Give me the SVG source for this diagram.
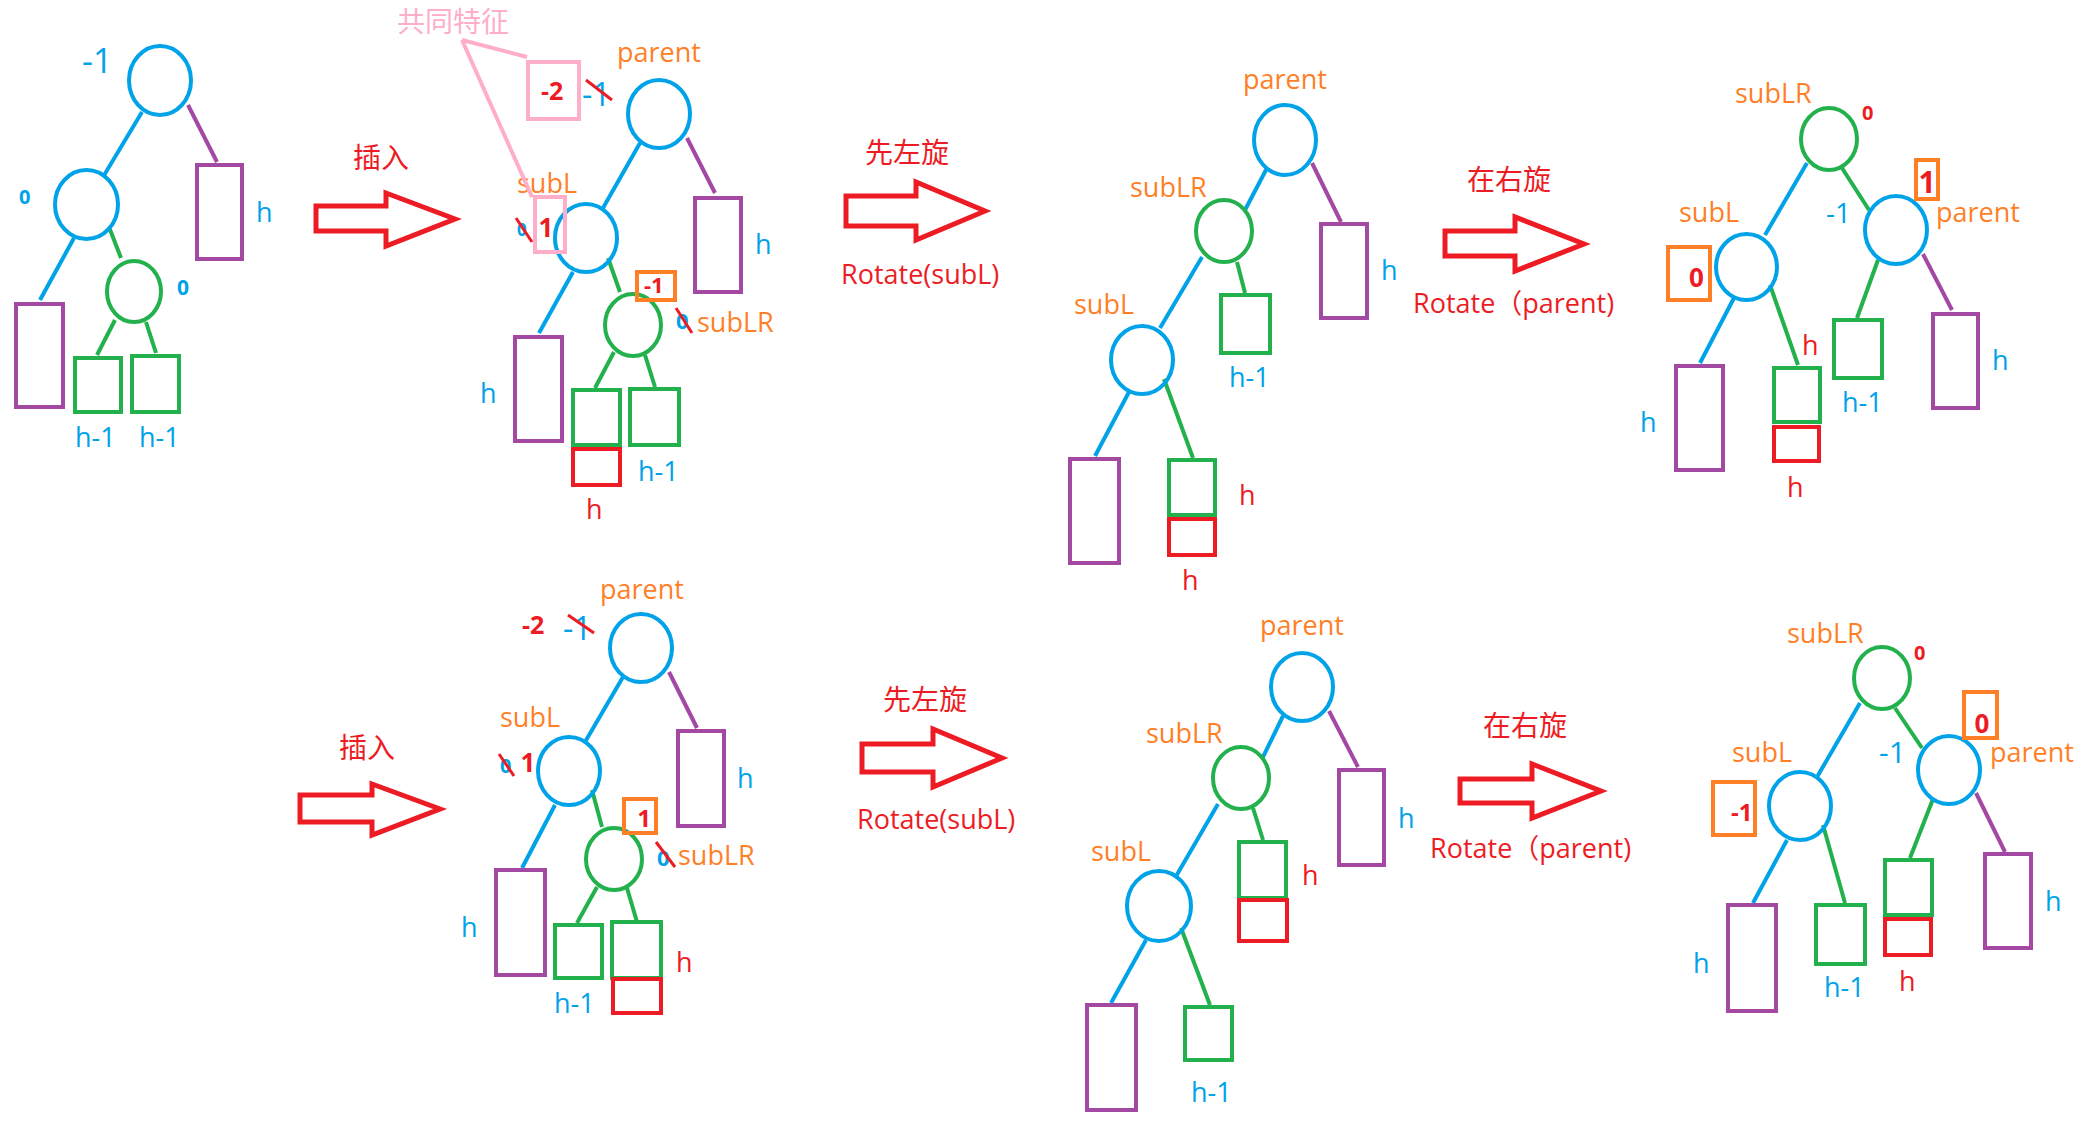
<svg xmlns="http://www.w3.org/2000/svg" width="2100" height="1124" viewBox="0 0 2100 1124">
<style>
text{font-family:"Open Sans","Noto Sans CJK SC",sans-serif;font-size:27px}
.cjk{font-family:"Noto Sans CJK SC",sans-serif;font-size:28px}
.hw{font-weight:bold}
ellipse,rect,line,polygon,polyline{fill:none;stroke-width:4}
.b{stroke:#00A2E8}.p{stroke:#A349A4}.g{stroke:#22B14C}.r{stroke:#ED1C24}.o{stroke:#FF7F27}.k{stroke:#FFAEC9}
.tb{fill:#00A2E8}.to{fill:#FF7F27}.tr{fill:#ED1C24}.tk{fill:#FFAEC9}
.arrow{stroke:#ED1C24;stroke-width:5;stroke-linejoin:miter}
.sl{stroke:#ED1C24;stroke-width:3}
</style>
<rect x="0" y="0" width="2100" height="1124" fill="#FFFFFF" stroke="none"/>

<!-- ===== Tree 1 (top-left) ===== -->
<g id="t1-connectors">
<line class="b" x1="142" y1="112" x2="103" y2="177"/>
<line class="p" x1="188" y1="105" x2="217" y2="162"/>
<line class="b" x1="74" y1="238" x2="40" y2="300"/>
<line class="g" x1="109" y1="227" x2="121" y2="258"/>
<line class="g" x1="115" y1="320" x2="97" y2="355"/>
<line class="g" x1="146" y1="322" x2="156" y2="353"/>
</g>
<g id="t1-root"><ellipse class="b" cx="160" cy="80.5" rx="31" ry="34.5"/><text class="tb" x="82" y="73" style="font-size:34px">-1</text></g>
<g id="t1-subL"><ellipse class="b" cx="86.5" cy="204.5" rx="31.5" ry="34.5"/><text class="tb hw" x="19" y="204" style="font-size:20px">0</text></g>
<g id="t1-subLR"><ellipse class="g" cx="134" cy="291.5" rx="27" ry="30.5"/><text class="tb hw" x="177" y="295" style="font-size:21px">0</text></g>
<g id="t1-R"><rect class="p" x="197" y="165" width="45" height="94"/><text class="tb" x="256" y="222">h</text></g>
<g id="t1-LL"><rect class="p" x="16" y="304" width="47" height="103"/></g>
<g id="t1-LRL"><rect class="g" x="75" y="358" width="46" height="54"/><text class="tb" x="75" y="447">h-1</text></g>
<g id="t1-LRR"><rect class="g" x="132" y="356" width="47" height="56"/><text class="tb" x="139" y="447">h-1</text></g>

<g id="arrow1"><polygon class="arrow" points="316,206 386,206 386,193 455,219 386,246 386,231 316,231"/><text class="tr cjk" x="353" y="168">插入</text></g>

<!-- ===== Tree 2 (top) ===== -->
<g id="t2-connectors">
<line class="p" x1="687" y1="138" x2="715" y2="193"/>
<line class="b" x1="640" y1="143" x2="603" y2="208"/>
<line class="b" x1="573" y1="272" x2="539" y2="333"/>
<line class="g" x1="608" y1="258" x2="620" y2="292"/>
<line class="g" x1="614" y1="352" x2="595" y2="388"/>
<line class="g" x1="645" y1="355" x2="655" y2="387"/>
</g>
<g id="t2-parent"><ellipse class="b" cx="659" cy="114" rx="31" ry="34"/><text class="to" x="617" y="62">parent</text>
<text class="tb" x="582" y="106" style="font-size:32px">-1</text><line class="sl" x1="586" y1="80" x2="612" y2="100"/></g>
<g id="t2-subL"><ellipse class="b" cx="586" cy="238" rx="31" ry="34"/><text class="to" x="517" y="193">subL</text>
<text class="tb hw" x="517" y="236" style="font-size:17px">0</text><line class="sl" x1="516" y1="218" x2="532" y2="242"/>
<text class="tr hw" x="546" y="237" text-anchor="middle" style="font-size:26px">1</text></g>
<g id="t2-subLR"><ellipse class="g" cx="633" cy="325" rx="28" ry="31"/>
<rect class="o" x="637" y="272" width="38" height="28"/><text class="tr hw" x="644" y="293" style="font-size:22px">-1</text>
<text class="tb hw" x="676" y="329" style="font-size:22px">0</text><line class="sl" x1="676" y1="308" x2="692" y2="333"/>
<text class="to" x="697" y="332">subLR</text></g>
<g id="t2-R"><rect class="p" x="695" y="198" width="46" height="94"/><text class="tb" x="755" y="254">h</text></g>
<g id="t2-LL"><rect class="p" x="515" y="337" width="47" height="104"/><text class="tb" x="480" y="403">h</text></g>
<g id="t2-LRL"><rect class="g" x="573" y="390" width="47" height="55"/><rect class="r" x="573" y="449" width="47" height="36"/><text class="tr" x="586" y="519">h</text></g>
<g id="t2-LRR"><rect class="g" x="630" y="389" width="49" height="56"/><text class="tb" x="638" y="481">h-1</text></g>
<g id="t2-note">
<line class="k" x1="462" y1="40" x2="527" y2="57"/>
<line class="k" x1="462" y1="40" x2="532" y2="197"/>
<rect class="k" x="528" y="62" width="51" height="57"/>
<text class="tr hw" x="541" y="100" style="font-size:25px">-2</text>
<rect class="k" x="535" y="197" width="30" height="55"/>
<text class="tk cjk" x="397" y="32">共同特征</text>
</g>

<g id="arrow2"><polygon class="arrow" points="846,196 916,196 916,182 985,211 916,240 916,226 846,226"/>
<text class="tr cjk" x="865" y="163">先左旋</text><text class="tr" x="841" y="284">Rotate(subL)</text></g>

<!-- ===== Tree 3 (top) ===== -->
<g id="t3-connectors">
<line class="p" x1="1312" y1="163" x2="1341" y2="222"/>
<line class="b" x1="1267" y1="168" x2="1245" y2="210"/>
<line class="g" x1="1237" y1="262" x2="1245" y2="293"/>
<line class="b" x1="1202" y1="257" x2="1160" y2="328"/>
<line class="b" x1="1129" y1="392" x2="1095" y2="456"/>
<line class="g" x1="1164" y1="379" x2="1193" y2="458"/>
</g>
<g id="t3-parent"><ellipse class="b" cx="1285" cy="140" rx="31" ry="35"/><text class="to" x="1243" y="89">parent</text></g>
<g id="t3-subLR"><ellipse class="g" cx="1224" cy="231" rx="28" ry="31"/><text class="to" x="1130" y="197">subLR</text></g>
<g id="t3-subL"><ellipse class="b" cx="1142" cy="360" rx="31" ry="34"/><text class="to" x="1074" y="314">subL</text></g>
<g id="t3-R"><rect class="p" x="1321" y="224" width="46" height="94"/><text class="tb" x="1381" y="280">h</text></g>
<g id="t3-LRR"><rect class="g" x="1221" y="295" width="49" height="58"/><text class="tb" x="1229" y="387">h-1</text></g>
<g id="t3-LL"><rect class="p" x="1070" y="459" width="49" height="104"/></g>
<g id="t3-LRL"><rect class="g" x="1169" y="460" width="46" height="55"/><rect class="r" x="1169" y="519" width="46" height="36"/>
<text class="tr" x="1239" y="505">h</text><text class="tr" x="1182" y="590">h</text></g>

<g id="arrow3"><polygon class="arrow" points="1445,231 1515,231 1515,217 1584,244 1515,271 1515,256 1445,256"/>
<text class="tr cjk" x="1467" y="190">在右旋</text><text class="tr" x="1413" y="313">Rotate（parent)</text></g>

<!-- ===== Tree 4 (top-right) ===== -->
<g id="t4-connectors">
<line class="b" x1="1807" y1="163" x2="1765" y2="235"/>
<line class="b" x1="1734" y1="298" x2="1700" y2="363"/>
<line class="g" x1="1770" y1="285" x2="1798" y2="365"/>
<line class="g" x1="1842" y1="168" x2="1869" y2="210"/>
<line class="g" x1="1878" y1="260" x2="1857" y2="318"/>
<line class="p" x1="1923" y1="254" x2="1952" y2="310"/>
</g>
<g id="t4-subLR"><ellipse class="g" cx="1829" cy="139" rx="28" ry="31"/><text class="to" x="1735" y="103">subLR</text><text class="tr hw" x="1862" y="120" style="font-size:20px">0</text></g>
<g id="t4-subL"><ellipse class="b" cx="1746.5" cy="267" rx="30.5" ry="33"/><text class="to" x="1679" y="222">subL</text>
<rect class="o" x="1668" y="247" width="42" height="53"/><text class="tr hw" x="1689" y="287" style="font-size:26px">0</text></g>
<g id="t4-parent"><ellipse class="b" cx="1896" cy="230" rx="31" ry="34"/><text class="to" x="1936" y="222">parent</text>
<rect class="o" x="1916" y="160" width="22" height="39"/><text class="tr hw" x="1927" y="193" text-anchor="middle" style="font-size:30px">1</text>
<text class="tb" x="1826" y="223" style="font-size:28px">-1</text></g>
<g id="t4-LL"><rect class="p" x="1676" y="366" width="47" height="104"/><text class="tb" x="1640" y="432">h</text></g>
<g id="t4-LR"><rect class="g" x="1774" y="368" width="46" height="54"/><rect class="r" x="1774" y="427" width="45" height="34"/>
<text class="tr" x="1802" y="355">h</text><text class="tr" x="1787" y="497">h</text></g>
<g id="t4-RL"><rect class="g" x="1834" y="320" width="48" height="58"/><text class="tb" x="1842" y="412">h-1</text></g>
<g id="t4-RR"><rect class="p" x="1933" y="314" width="45" height="94"/><text class="tb" x="1992" y="370">h</text></g>

<!-- ===== Bottom row ===== -->
<g id="arrow4"><polygon class="arrow" points="300,795 372,795 372,784 440,809 372,835 372,822 300,822"/><text class="tr cjk" x="339" y="758">插入</text></g>

<g id="b2-connectors">
<line class="p" x1="669" y1="672" x2="697" y2="728"/>
<line class="b" x1="623" y1="677" x2="585" y2="742"/>
<line class="b" x1="555" y1="805" x2="522" y2="868"/>
<line class="g" x1="592" y1="790" x2="602" y2="827"/>
<line class="g" x1="597" y1="887" x2="577" y2="923"/>
<line class="g" x1="627" y1="888" x2="637" y2="922"/>
</g>
<g id="b2-parent"><ellipse class="b" cx="641" cy="648" rx="31" ry="34"/><text class="to" x="600" y="599">parent</text>
<text class="tr hw" x="522" y="634" style="font-size:25px">-2</text>
<text class="tb" x="563" y="640" style="font-size:32px">-1</text><line class="sl" x1="568" y1="615" x2="594" y2="633"/></g>
<g id="b2-subL"><ellipse class="b" cx="569" cy="771" rx="31" ry="34"/><text class="to" x="500" y="727">subL</text>
<text class="tb hw" x="500" y="773" style="font-size:20px">0</text><line class="sl" x1="499" y1="754" x2="514" y2="776"/>
<text class="tr hw" x="528" y="772" text-anchor="middle" style="font-size:26px">1</text></g>
<g id="b2-subLR"><ellipse class="g" cx="614" cy="859" rx="28" ry="31"/>
<rect class="o" x="624" y="799" width="32" height="34"/><text class="tr hw" x="644" y="827" text-anchor="middle" style="font-size:24px">1</text>
<text class="tb hw" x="657" y="866" style="font-size:22px">0</text><line class="sl" x1="656" y1="842" x2="675" y2="867"/>
<text class="to" x="678" y="865">subLR</text></g>
<g id="b2-R"><rect class="p" x="678" y="731" width="46" height="95"/><text class="tb" x="737" y="788">h</text></g>
<g id="b2-LL"><rect class="p" x="496" y="870" width="49" height="105"/><text class="tb" x="461" y="937">h</text></g>
<g id="b2-LRL"><rect class="g" x="555" y="925" width="47" height="53"/><text class="tb" x="554" y="1013">h-1</text></g>
<g id="b2-LRR"><rect class="g" x="612" y="922" width="49" height="56"/><rect class="r" x="613" y="979" width="48" height="34"/><text class="tr" x="676" y="972">h</text></g>

<g id="arrow5"><polygon class="arrow" points="862,744 933,744 933,729 1002,758 933,787 933,772 862,772"/>
<text class="tr cjk" x="883" y="710">先左旋</text><text class="tr" x="857" y="829">Rotate(subL)</text></g>

<g id="b3-connectors">
<line class="p" x1="1329" y1="711" x2="1358" y2="767"/>
<line class="b" x1="1283" y1="716" x2="1263" y2="757"/>
<line class="g" x1="1253" y1="808" x2="1263" y2="840"/>
<line class="b" x1="1218" y1="804" x2="1175" y2="878"/>
<line class="b" x1="1146" y1="940" x2="1111" y2="1003"/>
<line class="g" x1="1181" y1="928" x2="1210" y2="1005"/>
</g>
<g id="b3-parent"><ellipse class="b" cx="1302" cy="687" rx="31" ry="34"/><text class="to" x="1260" y="635">parent</text></g>
<g id="b3-subLR"><ellipse class="g" cx="1241" cy="778" rx="28" ry="31"/><text class="to" x="1146" y="743">subLR</text></g>
<g id="b3-subL"><ellipse class="b" cx="1159" cy="906" rx="32" ry="35"/><text class="to" x="1091" y="861">subL</text></g>
<g id="b3-R"><rect class="p" x="1339" y="770" width="45" height="95"/><text class="tb" x="1398" y="828">h</text></g>
<g id="b3-LRR"><rect class="g" x="1239" y="842" width="47" height="56"/><rect class="r" x="1239" y="900" width="48" height="41"/><text class="tr" x="1302" y="885">h</text></g>
<g id="b3-LL"><rect class="p" x="1087" y="1005" width="49" height="105"/></g>
<g id="b3-LRL"><rect class="g" x="1185" y="1007" width="47" height="53"/><text class="tb" x="1191" y="1102">h-1</text></g>

<g id="arrow6"><polygon class="arrow" points="1460,779 1532,779 1532,764 1601,791 1532,818 1532,803 1460,803"/>
<text class="tr cjk" x="1483" y="736">在右旋</text><text class="tr" x="1430" y="858">Rotate（parent)</text></g>

<g id="b4-connectors">
<line class="b" x1="1860" y1="703" x2="1817" y2="777"/>
<line class="b" x1="1787" y1="840" x2="1753" y2="903"/>
<line class="g" x1="1823" y1="825" x2="1845" y2="903"/>
<line class="g" x1="1895" y1="708" x2="1922" y2="748"/>
<line class="g" x1="1933" y1="799" x2="1910" y2="858"/>
<line class="p" x1="1976" y1="793" x2="2005" y2="852"/>
</g>
<g id="b4-subLR"><ellipse class="g" cx="1882" cy="678" rx="28" ry="31"/><text class="to" x="1787" y="643">subLR</text><text class="tr hw" x="1914" y="660" style="font-size:20px">0</text></g>
<g id="b4-subL"><ellipse class="b" cx="1800" cy="806" rx="31" ry="34"/><text class="to" x="1732" y="762">subL</text>
<rect class="o" x="1713" y="782" width="42" height="53"/><text class="tr hw" x="1731" y="821" style="font-size:24px">-1</text></g>
<g id="b4-parent"><ellipse class="b" cx="1949" cy="770" rx="31" ry="34"/><text class="to" x="1990" y="762">parent</text>
<rect class="o" x="1964" y="692" width="33" height="46"/><text class="tr hw" x="1982" y="733" text-anchor="middle" style="font-size:26px">0</text>
<text class="tb" x="1879" y="763" style="font-size:30px">-1</text></g>
<g id="b4-LL"><rect class="p" x="1728" y="905" width="48" height="106"/><text class="tb" x="1693" y="973">h</text></g>
<g id="b4-LR"><rect class="g" x="1816" y="905" width="49" height="59"/><text class="tb" x="1824" y="997">h-1</text></g>
<g id="b4-RL"><rect class="g" x="1885" y="860" width="47" height="55"/><rect class="r" x="1885" y="919" width="46" height="36"/><text class="tr" x="1899" y="991">h</text></g>
<g id="b4-RR"><rect class="p" x="1985" y="854" width="46" height="94"/><text class="tb" x="2045" y="911">h</text></g>
</svg>
